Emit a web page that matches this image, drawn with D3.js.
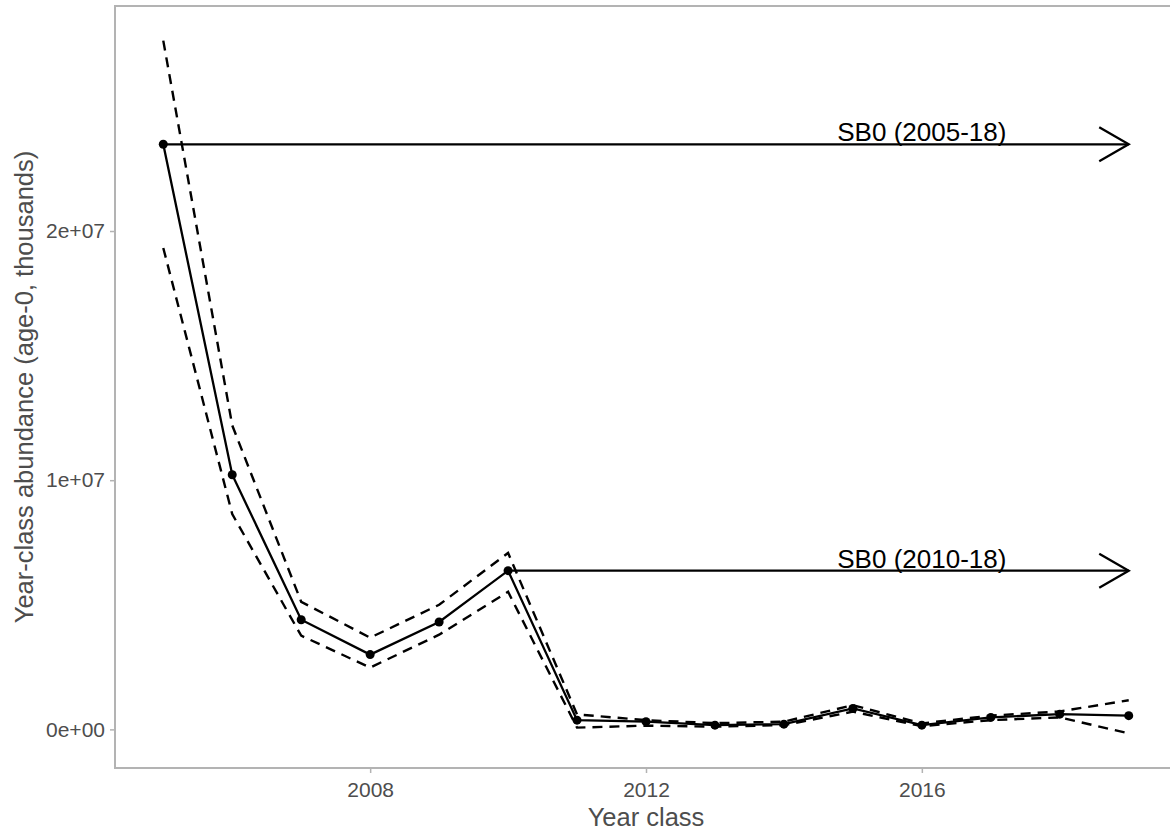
<!DOCTYPE html>
<html>
<head>
<meta charset="utf-8">
<script src="https://cdn.jsdelivr.net/npm/d3@7/dist/d3.min.js"></script>
<style>
  body { margin: 0; background: #fff; }
  svg { display: block; font-family: "Liberation Sans", Arial, sans-serif; }
</style>
</head>
<body>
<script>
// year classes and estimates (age-0, thousands)
var years = [2005, 2006, 2007, 2008, 2009, 2010, 2011, 2012, 2013, 2014, 2015, 2016, 2017, 2018, 2019];
var estimate = [23.48e6, 10.22e6, 4.40e6, 3.00e6, 4.31e6, 6.37e6, 0.37e6, 0.31e6, 0.17e6, 0.21e6, 0.84e6, 0.17e6, 0.48e6, 0.61e6, 0.55e6];
var upper = [27.64e6, 12.2e6, 5.12e6, 3.68e6, 5.00e6, 7.08e6, 0.60e6, 0.37e6, 0.25e6, 0.31e6, 0.97e6, 0.24e6, 0.55e6, 0.72e6, 1.17e6];
var lower = [19.32e6, 8.64e6, 3.76e6, 2.48e6, 3.80e6, 5.52e6, 0.07e6, 0.15e6, 0.11e6, 0.17e6, 0.71e6, 0.13e6, 0.37e6, 0.48e6, -0.16e6];

// SB0 reference arrows
var sbLabels = ["SB0 (2005-18)", "SB0 (2010-18)"];
var sbStart = [2005, 2010];
var sbEnd = [2019, 2019];
var sbValue = [23.48e6, 6.37e6];
var sbLabelYear = 2016;

var xTicks = [2008, 2012, 2016];
var yTicks = [0, 1e7, 2e7];

var width = 1170, height = 831;
var margin = {top: 6, right: -7, bottom: 63, left: 115};

var svg = d3.select("body").append("svg")
    .attr("width", width)
    .attr("height", height);

// ggplot style 5% expansion
function expand(lo, hi) {
	var pad = (hi - lo) * 0.05;
	return [lo - pad, hi + pad];
}

var x = d3.scaleLinear()
	.domain(expand(d3.min(years), d3.max(years)))
	.range([margin.left, width - margin.right]);

var y = d3.scaleLinear()
	.domain(expand(d3.min(lower), d3.max(upper)))
	.range([height - margin.bottom, margin.top]);

function sci(d) {
	if (d === 0) return "0e+00";
	var e = Math.floor(Math.log10(Math.abs(d)));
	var m = Math.round(d / Math.pow(10, e));
	return m + "e" + (e < 0 ? "-" : "+") + (Math.abs(e) < 10 ? "0" : "") + Math.abs(e);
}

var xAxis = svg.append("g")
	.attr("transform", "translate(0," + (height - margin.bottom) + ")")
	.call(d3.axisBottom(x).tickValues(xTicks).tickFormat(d3.format("d")).tickSize(5).tickPadding(9));

var yAxis = svg.append("g")
	.attr("transform", "translate(" + margin.left + ",0)")
	.call(d3.axisLeft(y).tickValues(yTicks).tickFormat(sci).tickSize(5).tickPadding(5));

[xAxis, yAxis].forEach(function(a) {
	a.select(".domain").remove();
	a.selectAll(".tick line").attr("stroke", "#b3b3b3").attr("stroke-width", 1.5);
	a.selectAll(".tick text")
		.attr("fill", "#4d4d4d")
		.attr("font-size", 21)
		.attr("font-family", "Liberation Sans, Arial, sans-serif");
});

// panel border
svg.append("rect")
	.attr("x", margin.left)
	.attr("y", margin.top)
	.attr("width", width - margin.right - margin.left)
	.attr("height", height - margin.bottom - margin.top)
	.attr("fill", "none")
	.attr("stroke", "#b3b3b3")
	.attr("stroke-width", 2);

// axis titles
svg.append("text")
	.attr("x", (margin.left + width - margin.right) / 2)
	.attr("y", 826)
	.attr("text-anchor", "middle")
	.attr("font-size", 25.5)
	.attr("fill", "#4d4d4d")
	.text("Year class");

svg.append("text")
	.attr("transform", "translate(33," + ((margin.top + height - margin.bottom) / 2) + ") rotate(-90)")
	.attr("text-anchor", "middle")
	.attr("font-size", 25.5)
	.attr("fill", "#4d4d4d")
	.text("Year-class abundance (age-0, thousands)");

// open arrow head
svg.append("defs").append("marker")
	.attr("id", "arrowhead")
	.attr("markerUnits", "userSpaceOnUse")
	.attr("viewBox", "-34 -20 36 40")
	.attr("markerWidth", 36)
	.attr("markerHeight", 40)
	.attr("refX", 0)
	.attr("refY", 0)
	.attr("orient", "auto")
	.append("path")
	.attr("d", "M-29.5,-17L0,0L-29.5,17")
	.attr("fill", "none")
	.attr("stroke", "#000")
	.attr("stroke-width", 2.3);

var line = d3.line()
	.x(function(d, i) { return x(years[i]); })
	.y(function(d) { return y(d); });

var g = svg.append("g");

[upper, lower].forEach(function(band) {
	g.append("path")
		.datum(band)
		.attr("d", line)
		.attr("fill", "none")
		.attr("stroke", "#000")
		.attr("stroke-width", 2.4)
		.attr("stroke-dasharray", "10,7");
});

g.append("path")
	.datum(estimate)
	.attr("d", line)
	.attr("fill", "none")
	.attr("stroke", "#000")
	.attr("stroke-width", 2.3);

g.selectAll(".pt")
	.data(estimate)
	.enter().append("circle")
	.attr("class", "pt")
	.attr("cx", function(d, i) { return x(years[i]); })
	.attr("cy", function(d) { return y(d); })
	.attr("r", 4.5)
	.attr("fill", "#000");

g.selectAll(".sb")
	.data(sbValue)
	.enter().append("line")
	.attr("class", "sb")
	.attr("x1", function(d, i) { return x(sbStart[i]); })
	.attr("x2", function(d, i) { return x(sbEnd[i]); })
	.attr("y1", function(d) { return y(d); })
	.attr("y2", function(d) { return y(d); })
	.attr("stroke", "#000")
	.attr("stroke-width", 2.3)
	.attr("marker-end", "url(#arrowhead)");

g.selectAll(".sblabel")
	.data(sbValue)
	.enter().append("text")
	.attr("class", "sblabel")
	.attr("x", x(sbLabelYear))
	.attr("y", function(d) { return y(d) - 3; })
	.attr("text-anchor", "middle")
	.attr("font-size", 26)
	.attr("fill", "#000")
	.text(function(d, i) { return sbLabels[i]; });
</script>
</body>
</html>
